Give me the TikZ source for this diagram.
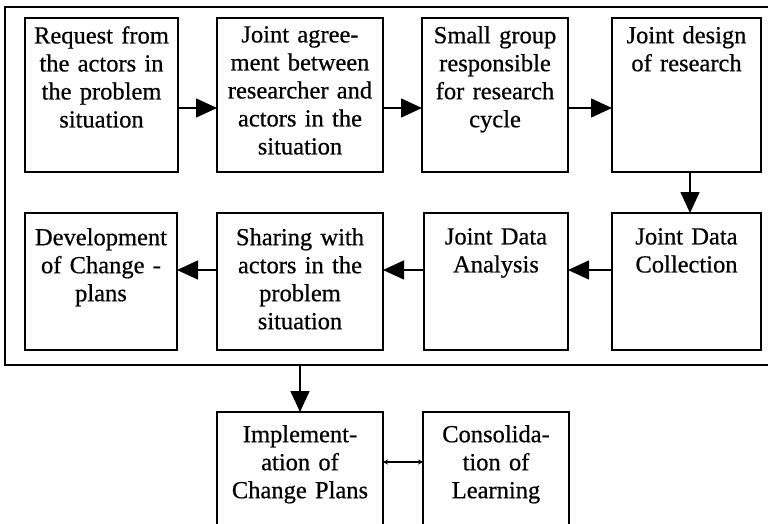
\documentclass[tikz,border=0pt]{standalone}
\usepackage{fontspec}
\setmainfont{Liberation Serif}[FakeBold=0.6, WordSpace={1.35}]
\usetikzlibrary{arrows.meta}
\begin{document}
\begin{tikzpicture}[x=1pt,y=-1pt,
  box/.style={draw, line width=1.4pt, minimum width=#1, outer sep=0pt, inner sep=0pt},
  txt/.style={anchor=north, align=center, inner sep=0pt, font=\fontsize{24.5}{28}\selectfont},
  arr/.style={line width=1.4pt, -{Triangle[length=21pt,width=19pt]}},
  darr/.style={line width=1.1pt, {Stealth[length=5pt,width=5pt]}-{Stealth[length=5pt,width=5pt]}}]
\useasboundingbox (0,0) rectangle (768,523);
% outer frame (right side beyond the picture)
\draw[line width=1.4pt] (772,7) -- (5,7) -- (5,365) -- (772,365);
\coordinate (fb) at (300,365);
% row 1
\node[box=153pt, minimum height=154pt] (b1) at (101.5,95) {};
\node[box=166pt, minimum height=154pt] (b2) at (300,95) {};
\node[box=146pt, minimum height=154pt] (b3) at (495,95) {};
\node[box=149pt, minimum height=154pt] (b4) at (686.5,95) {};
% row 2
\node[box=152pt, minimum height=137pt] (b5) at (101,281.5) {};
\node[box=166pt, minimum height=137pt] (b6) at (300,281.5) {};
\node[box=144pt, minimum height=137pt] (b7) at (496,281.5) {};
\node[box=149pt, minimum height=137pt] (b8) at (686.5,281.5) {};
% bottom row (cut off at the lower edge)
\node[box=166pt, minimum height=116pt] (b9) at (300,470) {};
\node[box=146pt, minimum height=116pt] (b10) at (496,470) {};
% texts
\node[txt] (t1) at ([yshift=-8pt]b1.north) {Request from\\the actors in\\the problem\\situation};
\node[txt] (t2) at ([yshift=-8pt]b2.north) {Joint agree-\\ment between\\researcher and\\actors in the\\situation};
\node[txt] (t3) at ([yshift=-8pt]b3.north) {Small group\\responsible\\for research\\cycle};
\node[txt] (t4) at ([yshift=-8pt]b4.north) {Joint design\\of research};
\node[txt] (t5) at ([yshift=-15pt]b5.north) {Development\\of Change -\\plans};
\node[txt] (t6) at ([yshift=-15pt]b6.north) {Sharing with\\actors in the\\problem\\situation};
\node[txt] (t7) at ([yshift=-15pt]b7.north) {Joint Data\\Analysis};
\node[txt] (t8) at ([yshift=-15pt]b8.north) {Joint Data\\Collection};
\node[txt] (t9) at ([yshift=-13pt]b9.north) {Implement-\\ation of\\Change Plans};
\node[txt] (t10) at ([yshift=-13pt]b10.north) {Consolida-\\tion of\\Learning};
% arrows
\draw[arr] (b1.east |- 0,108) -- (b2.west |- 0,108);
\draw[arr] (b2.east |- 0,108) -- (b3.west |- 0,108);
\draw[arr] (b3.east |- 0,108) -- (b4.west |- 0,108);
\draw[arr] (b4.south -| 690,0) -- (b8.north -| 690,0);
\draw[arr] (b8.west |- 0,270) -- (b7.east |- 0,270);
\draw[arr] (b7.west |- 0,270) -- (b6.east |- 0,270);
\draw[arr] (b6.west |- 0,270) -- (b5.east |- 0,270);
\draw[arr] (fb) -- (b9.north);
\draw[darr] (b9.east |- 0,462) -- (b10.west |- 0,462);
\end{tikzpicture}
\end{document}
